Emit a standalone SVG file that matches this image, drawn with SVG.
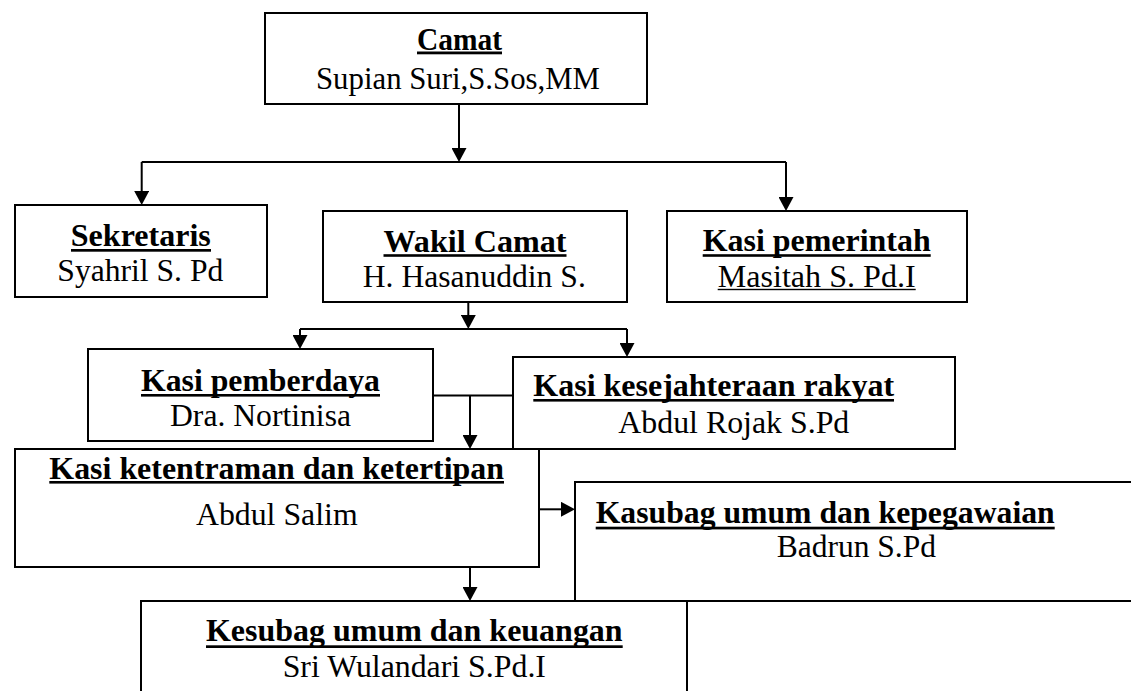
<svg xmlns="http://www.w3.org/2000/svg" width="1131" height="691" viewBox="0 0 1131 691">
<style>
.box{fill:#fff;stroke:#000;stroke-width:2}
.ln{fill:none;stroke:#000;stroke-width:2}
.t{font-size:31px;fill:#000;text-anchor:middle}
.b{font-weight:bold}
.ul{fill:#000}
</style>
<defs>
<marker id="ah" markerUnits="userSpaceOnUse" markerWidth="15" markerHeight="15" viewBox="0 0 14 15" refX="10" refY="7.5" orient="auto"><path d="M0,0 L14,7.5 L0,15 z" fill="#000"/></marker>
</defs>
<rect width="1131" height="691" fill="#fff"/>

<g id="camat">
<rect class="box" x="265" y="13" width="382" height="91"/>
<text class="t b" font-family="Liberation Serif, serif" x="459.5" y="50" textLength="85" lengthAdjust="spacingAndGlyphs">Camat</text>
<rect class="ul" x="417" y="51.5" width="85" height="2.8"/>
<text class="t" font-family="Liberation Serif, serif" x="458" y="88.7" textLength="284" lengthAdjust="spacingAndGlyphs">Supian Suri,S.Sos,MM</text>
</g>

<g id="sekretaris">
<rect class="box" x="15" y="205" width="252" height="92"/>
<text class="t b" font-family="Liberation Serif, serif" x="140.8" y="246" textLength="140" lengthAdjust="spacingAndGlyphs">Sekretaris</text>
<rect class="ul" x="71" y="249" width="140" height="2.7"/>
<text class="t" font-family="Liberation Serif, serif" x="140.3" y="281" textLength="166" lengthAdjust="spacingAndGlyphs">Syahril S. Pd</text>
</g>

<g id="wakil-camat">
<rect class="box" x="323" y="211" width="304" height="91"/>
<text class="t b" font-family="Liberation Serif, serif" x="475" y="251.5" textLength="183" lengthAdjust="spacingAndGlyphs">Wakil Camat</text>
<rect class="ul" x="383.5" y="254.2" width="183" height="2.6"/>
<text class="t" font-family="Liberation Serif, serif" x="474.3" y="287" textLength="223" lengthAdjust="spacingAndGlyphs">H. Hasanuddin S.</text>
</g>

<g id="kasi-pemerintah">
<rect class="box" x="667" y="211" width="300" height="91"/>
<text class="t b" font-family="Liberation Serif, serif" x="816.7" y="251" textLength="228" lengthAdjust="spacingAndGlyphs">Kasi pemerintah</text>
<rect class="ul" x="702.7" y="254.2" width="228" height="2.6"/>
<text class="t" font-family="Liberation Serif, serif" x="816.7" y="287" textLength="198" lengthAdjust="spacingAndGlyphs">Masitah S. Pd.I</text>
<rect class="ul" x="717.7" y="288.8" width="198" height="1.4"/>
</g>

<g id="kasi-pemberdaya">
<rect class="box" x="88" y="349" width="345" height="92"/>
<text class="t b" font-family="Liberation Serif, serif" x="260.5" y="391" textLength="239" lengthAdjust="spacingAndGlyphs">Kasi pemberdaya</text>
<rect class="ul" x="141" y="394" width="239" height="2.6"/>
<text class="t" font-family="Liberation Serif, serif" x="260.5" y="425.7" textLength="181" lengthAdjust="spacingAndGlyphs">Dra. Nortinisa</text>
</g>

<g id="kasi-kesejahteraan">
<rect class="box" x="513" y="357" width="442" height="92"/>
<text class="t b" font-family="Liberation Serif, serif" x="713.7" y="395.5" textLength="360.7" lengthAdjust="spacingAndGlyphs">Kasi kesejahteraan rakyat</text>
<rect class="ul" x="533.3" y="399" width="360.7" height="2.6"/>
<text class="t" font-family="Liberation Serif, serif" x="733.8" y="433" textLength="231" lengthAdjust="spacingAndGlyphs">Abdul Rojak S.Pd</text>
</g>

<g id="kasi-ketentraman">
<rect class="box" x="15" y="449" width="524" height="118"/>
<text class="t b" font-family="Liberation Serif, serif" x="276.7" y="479" textLength="454.7" lengthAdjust="spacingAndGlyphs">Kasi ketentraman dan ketertipan</text>
<rect class="ul" x="49.3" y="481" width="454.7" height="2.6"/>
<text class="t" font-family="Liberation Serif, serif" x="276.8" y="525" textLength="161.7" lengthAdjust="spacingAndGlyphs">Abdul Salim</text>
</g>

<g id="kasubag-kepegawaian">
<rect class="box" x="575" y="482" width="570" height="119"/>
<text class="t b" font-family="Liberation Serif, serif" x="825.2" y="522.7" textLength="459" lengthAdjust="spacingAndGlyphs">Kasubag umum dan kepegawaian</text>
<rect class="ul" x="595.7" y="526.7" width="459" height="2.7"/>
<text class="t" font-family="Liberation Serif, serif" x="856.3" y="557.3" textLength="159.3" lengthAdjust="spacingAndGlyphs">Badrun S.Pd</text>
</g>

<g id="kesubag-keuangan">
<rect class="box" x="141" y="601" width="546" height="100"/>
<text class="t b" font-family="Liberation Serif, serif" x="414.3" y="641" textLength="416.7" lengthAdjust="spacingAndGlyphs">Kesubag umum dan keuangan</text>
<rect class="ul" x="206" y="645.3" width="416.7" height="2.7"/>
<text class="t" font-family="Liberation Serif, serif" x="414.3" y="676.7" textLength="263.3" lengthAdjust="spacingAndGlyphs">Sri Wulandari S.Pd.I</text>
</g>

<g id="connectors">
<path class="ln" d="M459,104 V158" marker-end="url(#ah)"/>
<path class="ln" d="M141.7,162 H786"/>
<path class="ln" d="M141.7,162 V201" marker-end="url(#ah)"/>
<path class="ln" d="M786,162 V207" marker-end="url(#ah)"/>
<path class="ln" d="M468.3,302 V325" marker-end="url(#ah)"/>
<path class="ln" d="M300,329 H627"/>
<path class="ln" d="M300,329 V345" marker-end="url(#ah)"/>
<path class="ln" d="M627,329 V353" marker-end="url(#ah)"/>
<path class="ln" d="M433,395.5 H513"/>
<path class="ln" d="M470,395.5 V445" marker-end="url(#ah)"/>
<path class="ln" d="M539,509.3 H571" marker-end="url(#ah)"/>
<path class="ln" d="M470,567 V597" marker-end="url(#ah)"/>
</g>
</svg>
